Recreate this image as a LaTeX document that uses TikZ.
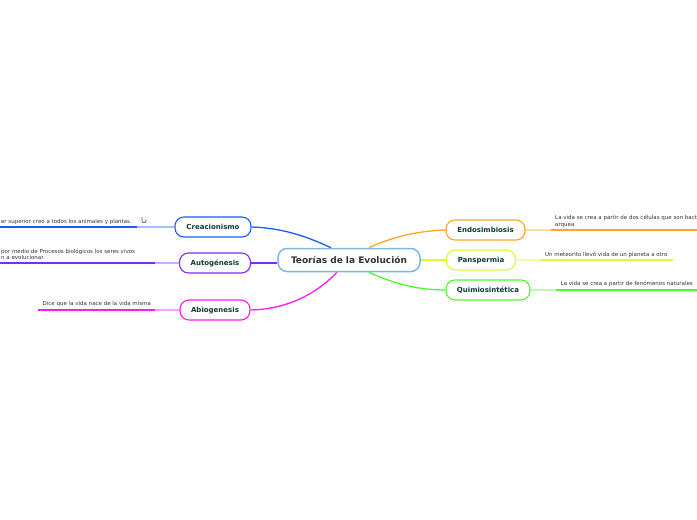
\documentclass[tikz,border=0pt]{standalone}
\usepackage{fontspec}
\usetikzlibrary{backgrounds}
\setmainfont{DejaVu Sans}
\definecolor{cCre}{HTML}{1A5CFF}
\definecolor{cAut}{HTML}{7A2CFF}
\definecolor{cAbi}{HTML}{FA1CF0}
\definecolor{cEnd}{HTML}{FFA428}
\definecolor{cPan}{HTML}{DCFA2C}
\definecolor{cQui}{HTML}{4CFA2C}
\definecolor{cRoot}{HTML}{7CB8E4}
\definecolor{txt}{HTML}{0E3B36}
\tikzset{
 rootbox/.style={draw=cRoot,line width=1.5pt,rounded corners=9pt,fill=white,minimum width=142pt,minimum height=23pt,inner sep=0pt,text height=9.8pt,text depth=2pt,font=\fontsize{9}{10}\selectfont\bfseries,text=black!80},
 topic/.style={draw=#1,line width=1.1pt,rounded corners=9pt,fill=white,minimum height=20pt,inner sep=0pt,text height=7pt,text depth=1.5pt,font=\fontsize{7}{8}\selectfont\bfseries,text=txt},
 note/.style={inner sep=0pt,font=\fontsize{5.5}{6.6}\selectfont,text=black!80,align=left},
 stub/.style={line width=1.5pt,draw=#1!40},
 bar/.style={line width=1.7pt,draw=#1},
 link/.style={line width=1.3pt,draw=#1},
}
\begin{document}
\begin{tikzpicture}[x=1pt,y=-1pt]
\useasboundingbox (0,0) rectangle (697,520);
\node[rootbox] (root) at (349,260) {Teorías de la Evolución};
\node[topic=cCre,minimum width=76pt] (cre) at (213,227) {Creacionismo};
\node[topic=cAut,minimum width=71pt] (aut) at (215,263) {Autogénesis};
\node[topic=cAbi,minimum width=70pt] (abi) at (215,310) {Abiogenesis};
\node[topic=cEnd,minimum width=79pt] (end) at (485.5,230) {Endosimbiosis};
\node[topic=cPan,minimum width=69pt] (pan) at (481,260) {Panspermia};
\node[topic=cQui,minimum width=84pt] (qui) at (488,290) {Quimiosintética};
\coordinate (creA) at (137,227); \coordinate (creB) at (0,227);
\coordinate (autA) at (155,263); \coordinate (autB) at (0,263);
\coordinate (abiA) at (155,310); \coordinate (abiB) at (38,310);
\coordinate (endA) at (551,230); \coordinate (endB) at (697,230);
\coordinate (panA) at (541,260); \coordinate (panB) at (673,260);
\coordinate (quiA) at (556,290); \coordinate (quiB) at (697,290);
\coordinate (rootNW) at ([xshift=-18pt]root.north);
\coordinate (rootSW) at ([xshift=-12pt]root.south);
\coordinate (rootNE) at ([xshift=20pt]root.north);
\coordinate (rootSE) at ([xshift=20pt]root.south);
\begin{scope}[on background layer]
\draw[stub=cCre] (cre.west) -- (creA); \draw[bar=cCre] (creA) -- (creB);
\draw[stub=cAut] (aut.west) -- (autA); \draw[bar=cAut] (autA) -- (autB);
\draw[stub=cAbi] (abi.west) -- (abiA); \draw[bar=cAbi] (abiA) -- (abiB);
\draw[stub=cEnd] (end.east) -- (endA); \draw[bar=cEnd] (endA) -- (endB);
\draw[stub=cPan] (pan.east) -- (panA); \draw[bar=cPan] (panA) -- (panB);
\draw[stub=cQui] (qui.east) -- (quiA); \draw[bar=cQui] (quiA) -- (quiB);
\draw[link=cCre] (cre.east) .. controls (285,228) and (310,238) .. (rootNW);
\draw[link=cAut] (aut.east) -- (aut.east -| root.west);
\draw[link=cAbi] (abi.east) .. controls (290,309) and (318,292) .. (rootSW);
\draw[link=cEnd] (end.west) .. controls (415,231) and (390,238) .. (rootNE);
\draw[link=cPan] (pan.west) -- (root.east);
\draw[link=cQui] (qui.west) .. controls (415,290) and (390,282) .. (rootSE);
\end{scope}
\node[note,anchor=south east] (tcre) at (132,224.5) {er superior creó a todos los animales y plantas.};
\node[note,anchor=south west] (taut) at (1,260) {por medio de Procesos biológicos los seres vivos\\n a evolucionar.};
\node[note,anchor=south west] (tabi) at (42.5,307) {Dice que la vida nace de la vida misma};
\node[note,anchor=south west] (tend) at (555,227.5) {La vida se crea a partir de dos células que son bact\\arquea};
\node[note,anchor=south west] (tpan) at (545,257.5) {Un meteorito llevó vida de un planeta a otro};
\node[note,anchor=south west] (tqui) at (560.5,287) {La vida se crea a partir de fenómenos naturales};
\draw[line width=0.7pt,draw=black!65] (142,217) -- (142,220.8) arc[start angle=180,end angle=360,radius=2pt] -- (146,219.5);
\end{tikzpicture}
\end{document}
